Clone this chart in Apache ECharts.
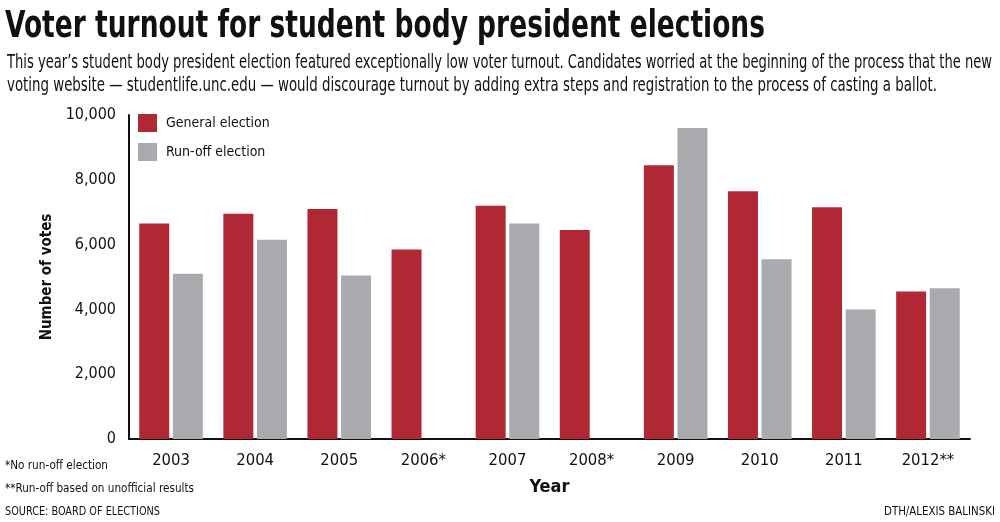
<!DOCTYPE html>
<html>
<head>
<meta charset="utf-8">
<script src="https://cdn.jsdelivr.net/npm/echarts@6/dist/echarts.min.js"></script>
<style>
html,body{margin:0;padding:0;background:#fff;}
#c{width:1000px;height:522px;}
</style>
</head>
<body>
<div id="c"></div>
<script>
var years = ['2003','2004','2005','2006*','2007','2008*','2009','2010','2011','2012**'];
var generalElection = [6650, 6950, 7100, 5850, 7200, 6450, 8450, 7650, 7150, 4550];
var runoffElection = [5100, 6150, 5050, null, 6650, null, 9600, 5550, 4000, 4650];
var yTicks = [0, 2000, 4000, 6000, 8000, 10000];

var titleText = 'Voter turnout for student body president elections';
var subtitleLines = [
  'This year\u2019s student body president election featured exceptionally low voter turnout. Candidates worried at the beginning of the process that the new',
  'voting website \u2014 studentlife.unc.edu \u2014 would discourage turnout by adding extra steps and registration to the process of casting a ballot.'
];
var footnotes = ['*No run-off election', '**Run-off based on unofficial results', 'SOURCE: BOARD OF ELECTIONS'];
var creditText = 'DTH/ALEXIS BALINSKI';

var FONT = "'DejaVu Sans Condensed','DejaVu Sans',sans-serif";
var ctx = document.createElement('canvas').getContext('2d');
function measure(text, size, weight) {
  ctx.font = (weight || 'normal') + ' ' + size + 'px ' + FONT;
  return ctx.measureText(text).width;
}
// condensed text block: fit natural text into the target width horizontally
function condText(text, x, baseline, size, weight, targetWidth, align) {
  var w = measure(text, size, weight);
  return {
    type: 'text', x: x, y: baseline - 0.77 * size, scaleX: targetWidth / w, scaleY: 1, silent: true,
    style: {text: text, fontFamily: FONT, fontSize: size, fontWeight: weight || 'normal',
            fill: '#111', align: align || 'left', verticalAlign: 'top'}
  };
}

var graphics = [
  condText(titleText, 5, 37, 37, 'bold', 760),
  condText(subtitleLines[0], 7, 68, 19, 'normal', 985),
  condText(subtitleLines[1], 7, 91, 19, 'normal', 930),
  condText(footnotes[0], 5, 469, 13, 'normal', 103),
  condText(footnotes[1], 5, 492, 13, 'normal', 189),
  condText(footnotes[2], 5, 515, 13, 'normal', 155),
  condText(creditText, 995, 515, 13, 'normal', 111, 'right')
];

var chart = echarts.init(document.getElementById('c'));
chart.setOption({
  backgroundColor: '#fff',
  animation: false,
  graphic: graphics,
  legend: {
    left: 133, top: 109, orient: 'vertical', itemWidth: 19, itemHeight: 18, itemGap: 11,
    icon: 'rect',
    textStyle: {fontFamily: FONT, fontSize: 14, color: '#111', padding: [0,0,0,4]},
    data: ['General election', 'Run-off election']
  },
  grid: {left: 129, right: 30, top: 115, bottom: 83, containLabel: false},
  xAxis: {
    type: 'category', data: years,
    name: 'Year', nameLocation: 'middle', nameGap: 39,
    nameTextStyle: {fontFamily: FONT, fontWeight: 'bold', fontSize: 18, color: '#111'},
    axisLine: {lineStyle: {color: '#111', width: 2}},
    axisTick: {show: false},
    axisLabel: {fontFamily: FONT, fontSize: 16.5, color: '#111', margin: 13}
  },
  yAxis: {
    type: 'value', min: 0, max: 10000, interval: 2000,
    name: 'Number of votes', nameLocation: 'middle', nameGap: 74, nameRotate: 90,
    nameTextStyle: {fontFamily: FONT, fontWeight: 'bold', fontSize: 15, color: '#111'},
    axisLine: {show: true, lineStyle: {color: '#111', width: 2}},
    axisTick: {show: false},
    splitLine: {show: false},
    axisLabel: {fontFamily: FONT, fontSize: 16, color: '#111', margin: 13,
      formatter: function(v){ return yTicks.indexOf(v) >= 0 ? v.toString().replace(/\B(?=(\d{3})+(?!\d))/g, ',') : ''; }}
  },
  series: [
    {name: 'General election', type: 'bar', data: generalElection, barWidth: 30, barGap: '12%',
     itemStyle: {color: '#B12835'}},
    {name: 'Run-off election', type: 'bar', data: runoffElection, barWidth: 30,
     itemStyle: {color: '#A8AAAD'}}
  ]
});
</script>
</body>
</html>
